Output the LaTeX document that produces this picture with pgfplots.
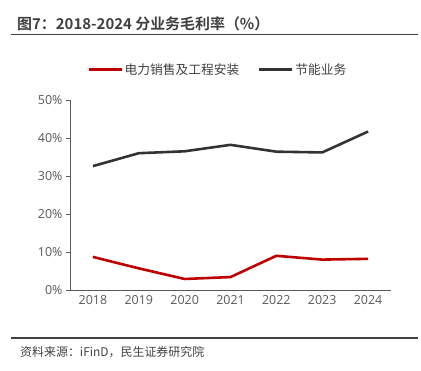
\documentclass[border=0pt]{standalone}
\usepackage{pgfplots}
\pgfplotsset{compat=1.18}
\usepackage{fontspec}
\setmainfont{Noto Sans CJK SC}[BoldFont={Noto Sans CJK SC Bold}]
\newfontfamily\numfont{Open Sans}
\newfontfamily\titlefont{Noto Sans CJK SC Bold}
\definecolor{myred}{HTML}{C00000}
\definecolor{mydark}{HTML}{333333}
\definecolor{txt}{HTML}{595959}
\definecolor{ttl}{HTML}{404040}
\begin{document}
\begin{tikzpicture}
\path[use as bounding box] (0bp,0bp) rectangle (421bp,371bp);
% title
\node[anchor=base west,font=\titlefont\fontsize{15}{17}\selectfont,text=ttl,inner sep=0] at (17bp,341bp) {图7：2018-2024 分业务毛利率（\%）};
\draw[color=ttl,line width=1.3pt] (11bp,336.5bp) -- (418bp,336.5bp);
% footer
\draw[color=ttl,line width=1.1pt] (11bp,33bp) -- (418bp,33bp);
\node[anchor=base west,font=\fontsize{12}{14}\selectfont,text=ttl,inner sep=0] at (20bp,15bp) {资料来源：iFinD，民生证券研究院};
\begin{axis}[
  at={(70bp,81bp)}, anchor=south west,
  scale only axis, width=321bp, height=190bp,
  xmin=-0.5, xmax=6.5, ymin=0, ymax=50,
  xtick={0,1,2,3,4,5,6},
  xticklabels={2018,2019,2020,2021,2022,2023,2024},
  ytick={0,10,20,30,40,50},
  yticklabel={\pgfmathprintnumber{\tick}\%},
  /pgf/number format/assume math mode=true,
  axis x line*=bottom, axis y line*=left,
  axis line style={color=txt,line width=0.8pt,-},
  x tick style={draw=none},
  y tick style={color=txt,line width=0.8pt},
  ytick align=outside, tick pos=left,
  major tick length=4bp,
  tick label style={font=\numfont\fontsize{12.5}{14}\selectfont,text=txt},
  xticklabel style={yshift=-2bp},
  legend style={at={(0.053,1.158)},anchor=west,draw=none,fill=none,inner sep=0pt,
     legend columns=2, font=\fontsize{12.8}{14}\selectfont, text=ttl,
     nodes={inner xsep=1.5bp},
     /tikz/every even column/.append style={column sep=17bp}},
  legend image code/.code={\draw[#1,line width=3pt] (0bp,0bp) -- (33bp,0bp);},
  clip=false,
]
\addplot[color=myred,line width=2.6pt] coordinates {(0,8.7)(1,5.7)(2,2.9)(3,3.4)(4,9.0)(5,8.0)(6,8.2)};
\addlegendentry{电力销售及工程安装}
\addplot[color=mydark,line width=2.6pt] coordinates {(0,32.6)(1,36.0)(2,36.5)(3,38.2)(4,36.4)(5,36.2)(6,41.7)};
\addlegendentry{节能业务}
\end{axis}
\end{tikzpicture}
\end{document}
